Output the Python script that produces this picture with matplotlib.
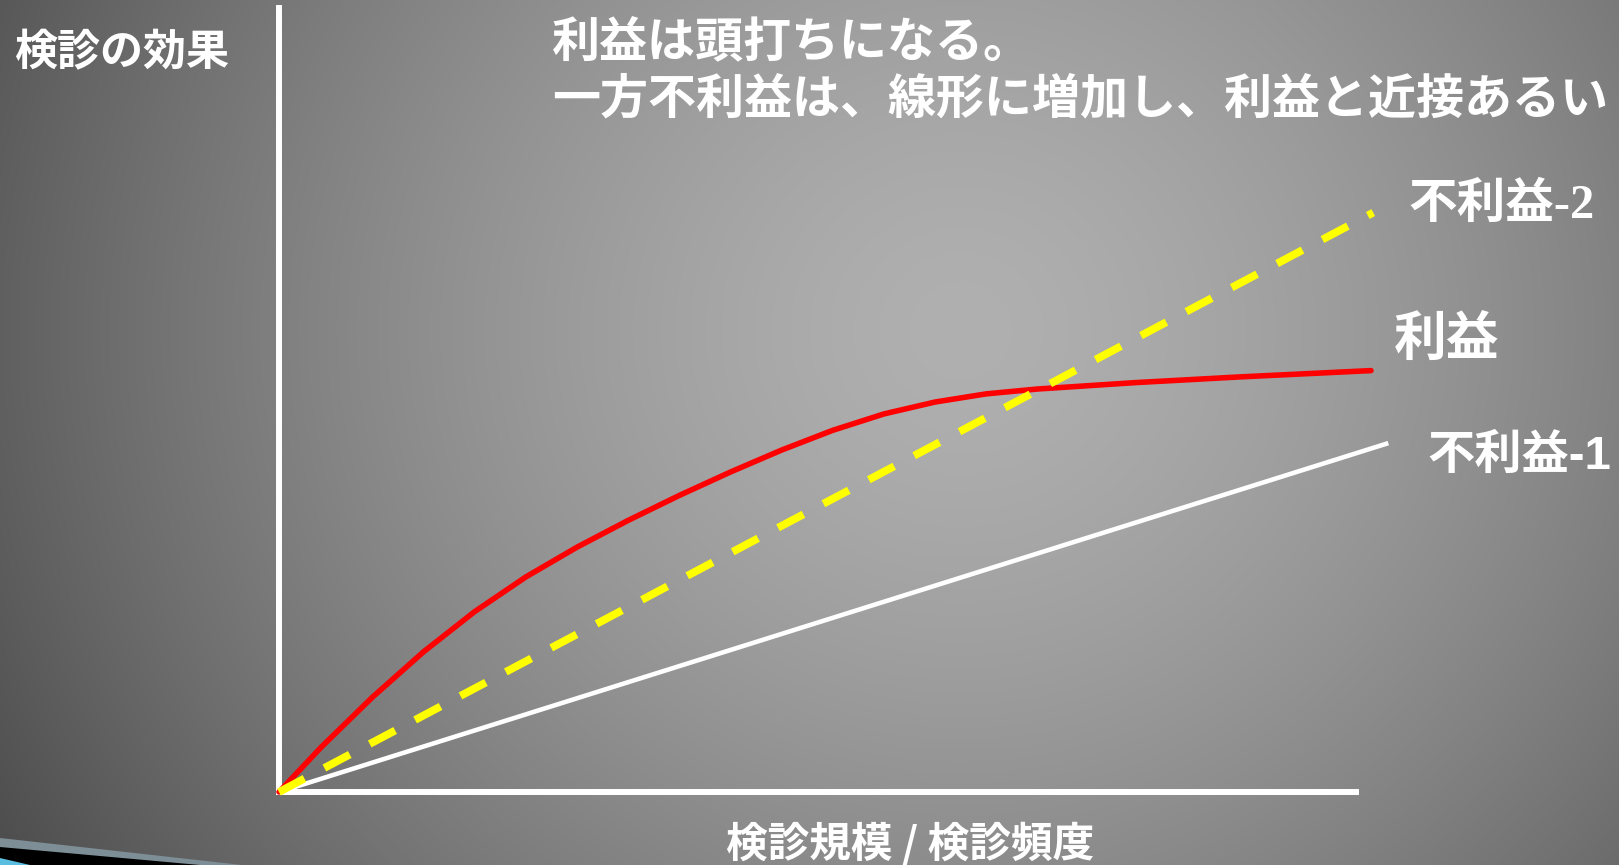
import matplotlib
matplotlib.use("Agg")
import matplotlib.pyplot as plt
from matplotlib.patches import Polygon
import numpy as np

W, H = 1619, 865

# curve values (x: 検診規模, y: 効果), axis runs 0..100
benefit_x = [0, 3.9, 8.66, 13.42, 18.16, 22.92, 27.66, 32.4, 37.16, 41.91,
             46.66, 51.41, 56.16, 60.91, 65.65, 70.41, 79.55, 89.14, 101.39]
benefit_y = [0, 5.69, 12.07, 17.88, 23.0, 27.43, 31.22, 34.63, 37.82, 40.81,
             43.61, 46.13, 48.22, 49.74, 50.78, 51.4, 52.22, 52.94, 53.75]
harm1_x = [0, 103.0]
harm1_y = [0, 44.5]
harm2_x = [0, 101.6]
harm2_y = [0, 73.9]

axis_len = 100

title_lines = ["利益は頭打ちになる。", "一方不利益は、線形に増加し、利益と近接あるい"]
ylabel = "検診の効果"
xlabel = "検診規模 / 検診頻度"
lbl_benefit = "利益"
lbl_harm1 = "不利益-1"
lbl_harm2 = "不利益-2"

fig = plt.figure(figsize=(W / 100, H / 100), dpi=100)

# slide background: radial grey gradient
bg = fig.add_axes([0, 0, 1, 1])
yy, xx = np.mgrid[0:H, 0:W]
d = np.hypot(xx - 960, (yy - 330) * 1.05)
v = np.clip(176 - 0.0027 * d ** 1.5, 40, 255) / 255.0
bg.imshow(np.dstack([v, v, v]), extent=[0, W, H, 0], aspect="auto", zorder=0)
# decorative bands in the bottom-left corner
bg.add_patch(Polygon([[0, 838], [242, 865], [0, 865]], closed=True,
                     facecolor="#7d8e97", edgecolor="none", zorder=1))
bg.add_patch(Polygon([[0, 847], [200, 865], [0, 865]], closed=True,
                     facecolor="#000000", edgecolor="none", zorder=2))
bg.add_patch(Polygon([[0, 858], [30, 865], [0, 865]], closed=True,
                     facecolor="#5bbde0", edgecolor="none", zorder=3))
bg.set_xlim(0, W)
bg.set_ylim(H, 0)
bg.axis("off")

ax = fig.add_axes([0, 0, 1, 1])
ax.patch.set_alpha(0)
ax.set_xlim(-279 / 10.77, (W - 279) / 10.77)
ax.set_ylim((792 - H) / 7.84, 792 / 7.84)
ax.axis("off")

ax.plot([0, axis_len], [0, 0], color="white", lw=4.3, solid_capstyle="projecting")
ax.plot([0, 0], [0, axis_len], color="white", lw=4.3, solid_capstyle="projecting")

ax.plot(harm1_x, harm1_y, color="white", lw=3.3, solid_capstyle="butt")
ax.plot(benefit_x, benefit_y, color="#ff0000", lw=4.0, solid_capstyle="round",
        solid_joinstyle="round")
ax.plot(harm2_x, harm2_y, color="#ffff00", lw=5.6, dashes=(3.7, 2.9),
        dash_capstyle="butt")

cjk = "Noto Sans CJK JP"


def px_text(x, y, s, size, family=cjk, ha="left"):
    fig.text(x / W, 1 - y / H, s, fontsize=size, color="white",
             fontweight="bold", family=family, ha=ha, va="center")


px_text(552, 42, title_lines[0], 34.6)
px_text(552, 99, title_lines[1], 34.6)
px_text(14, 52, ylabel, 31)
px_text(910, 844, xlabel, 30, ha="center")
px_text(1408, 205, lbl_harm2, 35, family=["Liberation Serif", cjk])
px_text(1394, 340, lbl_benefit, 38)
px_text(1427, 457, lbl_harm1, 34, family=["Liberation Sans", cjk])

fig.savefig("out.png", dpi=100)
